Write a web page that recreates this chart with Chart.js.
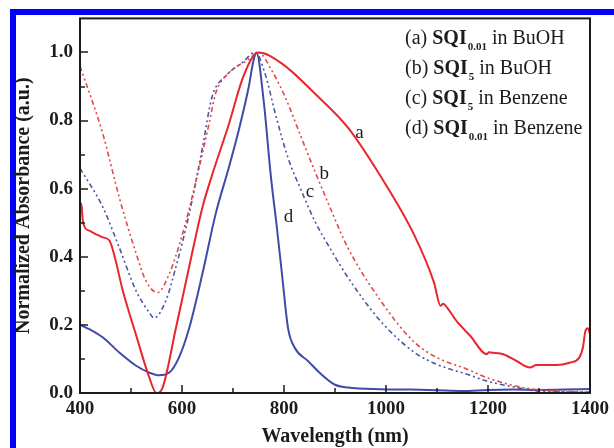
<!DOCTYPE html>
<html lang="en">
<head>
<meta charset="UTF-8">
<title>Normalized Absorbance</title>
<script src="https://cdn.jsdelivr.net/npm/chart.js"></script>
<style>
  html, body { margin: 0; padding: 0; background: #fff; }
</style>
</head>
<body>
<canvas id="absChart" width="614" height="448"></canvas>
<script>
// (a) SQI0.01 in BuOH - red solid
const aWl  = [400, 403, 406, 419, 445, 458, 468, 484, 510, 536, 550, 562, 588, 614, 640, 659, 692, 718, 740, 750, 796, 860, 925, 990, 1055, 1094, 1107, 1112, 1117, 1139, 1165, 1198, 1202, 1205, 1230, 1256, 1282, 1295, 1334, 1360, 1379, 1386, 1391, 1396, 1400];
const aAbs = [0.56, 0.55, 0.50, 0.476, 0.457, 0.447, 0.40, 0.30, 0.17, 0.045, 0.0, 0.016, 0.19, 0.37, 0.545, 0.64, 0.79, 0.92, 0.99, 1.0, 0.967, 0.88, 0.78, 0.635, 0.465, 0.325, 0.256, 0.262, 0.256, 0.21, 0.168, 0.114, 0.12, 0.119, 0.114, 0.094, 0.075, 0.082, 0.082, 0.089, 0.104, 0.133, 0.182, 0.19, 0.173];

// (b) SQI5 in BuOH - red dotted
const bWl  = [400, 445, 477, 510, 529, 552, 575, 601, 627, 653, 666, 692, 731, 750, 776, 802, 834, 860, 893, 925, 990, 1055, 1100, 1159, 1198, 1256, 1295, 1350, 1400];
const bAbs = [0.96, 0.76, 0.574, 0.41, 0.33, 0.295, 0.35, 0.467, 0.62, 0.79, 0.88, 0.94, 0.98, 1.0, 0.947, 0.87, 0.75, 0.653, 0.535, 0.427, 0.27, 0.15, 0.104, 0.07, 0.045, 0.02, 0.01, 0.005, 0.003];

// (c) SQI5 in Benzene - blue dotted
const cWl  = [400, 445, 477, 510, 536, 545, 568, 588, 614, 640, 659, 685, 718, 744, 763, 783, 808, 834, 860, 893, 925, 990, 1055, 1100, 1159, 1198, 1256, 1295, 1350, 1400];
const cAbs = [0.66, 0.545, 0.427, 0.30, 0.236, 0.22, 0.27, 0.37, 0.525, 0.72, 0.87, 0.93, 0.97, 1.0, 0.937, 0.82, 0.69, 0.594, 0.506, 0.418, 0.34, 0.21, 0.12, 0.084, 0.055, 0.035, 0.016, 0.006, 0.003, 0.002];

// (d) SQI0.01 in Benzene - blue solid
const dWl  = [400, 419, 445, 477, 510, 536, 555, 575, 594, 614, 640, 666, 692, 711, 731, 740, 746, 760, 774, 786, 796, 808, 821, 847, 873, 899, 925, 990, 1050, 1100, 1150, 1200, 1250, 1300, 1350, 1400];
const dAbs = [0.2, 0.187, 0.163, 0.119, 0.08, 0.06, 0.052, 0.06, 0.104, 0.19, 0.35, 0.526, 0.663, 0.77, 0.90, 0.975, 1.0, 0.86, 0.64, 0.486, 0.35, 0.19, 0.133, 0.094, 0.055, 0.025, 0.016, 0.011, 0.01, 0.008, 0.006, 0.009, 0.01, 0.009, 0.01, 0.012];

// legend text pieces
const legendTags = ['(a)', '(b)', '(c)', '(d)'];
const legendSubs = ['0.01', '5', '5', '0.01'];
const legendSolvents = ['BuOH', 'BuOH', 'Benzene', 'Benzene'];

// curve letters, placed in data coordinates
const curveTags = ['a', 'b', 'c', 'd'];
const curveTagWl = [948, 879, 851, 809];
const curveTagAbs = [0.762, 0.644, 0.589, 0.516];

const SERIF = '"Liberation Serif", "DejaVu Serif", serif';
const INK = '#1c1c1c';

function pts(wl, abs) {
  return wl.map(function (w, i) { return { x: w, y: abs[i] }; });
}

const decor = {
  id: 'decor',
  beforeDraw(chart) {
    const ctx = chart.ctx;
    ctx.save();
    ctx.fillStyle = '#fff';
    ctx.fillRect(0, 0, chart.width, chart.height);
    // blue frame strips (top and left)
    ctx.fillStyle = '#0000ff';
    ctx.fillRect(10, 9, chart.width - 10, 6);
    ctx.fillRect(10, 9, 6, chart.height - 9);
    ctx.restore();
  },
  afterDraw(chart) {
    const ctx = chart.ctx;
    const area = chart.chartArea;
    const xs = chart.scales.x, ys = chart.scales.y;
    ctx.save();
    ctx.strokeStyle = INK;
    ctx.lineWidth = 2;
    ctx.strokeRect(area.left, area.top, area.right - area.left, area.bottom - area.top);

    // inward ticks
    ctx.lineWidth = 1.5;
    ctx.beginPath();
    for (let w = 400; w <= 1400; w += 100) {
      const px = Math.round(xs.getPixelForValue(w));
      const len = (w % 200 === 0) ? 8 : 5;
      ctx.moveTo(px, area.bottom);
      ctx.lineTo(px, area.bottom - len);
    }
    for (let k = 0; k <= 10; k++) {
      const py = Math.round(ys.getPixelForValue(k / 10));
      const len = (k % 2 === 0) ? 8 : 5;
      ctx.moveTo(area.left, py);
      ctx.lineTo(area.left + len, py);
    }
    ctx.stroke();

    // curve letters
    ctx.fillStyle = INK;
    ctx.font = '19px ' + SERIF;
    ctx.textAlign = 'center';
    ctx.textBaseline = 'middle';
    curveTags.forEach(function (t, i) {
      ctx.fillText(t, xs.getPixelForValue(curveTagWl[i]), ys.getPixelForValue(curveTagAbs[i]));
    });

    // legend text
    ctx.textAlign = 'left';
    ctx.textBaseline = 'alphabetic';
    legendTags.forEach(function (tag, i) {
      let x = 405;
      const y = 44 + i * 30;
      ctx.font = '20px ' + SERIF;
      ctx.fillText(tag + ' ', x, y);
      x += ctx.measureText(tag + ' ').width;
      ctx.font = 'bold 20px ' + SERIF;
      ctx.fillText('SQI', x, y);
      x += ctx.measureText('SQI').width + 1;
      ctx.font = 'bold 11px ' + SERIF;
      ctx.fillText(legendSubs[i], x, y + 6);
      x += ctx.measureText(legendSubs[i]).width;
      ctx.font = '20px ' + SERIF;
      ctx.fillText(' in ' + legendSolvents[i], x, y);
    });
    ctx.restore();
  }
};

const ctx = document.getElementById('absChart').getContext('2d');
new Chart(ctx, {
  type: 'line',
  data: {
    datasets: [
      { label: 'a', data: pts(aWl, aAbs), borderColor: '#e8262b', borderWidth: 2 },
      { label: 'b', data: pts(bWl, bAbs), borderColor: '#e2474a', borderWidth: 1.6, borderDash: [5, 3, 2, 3, 2, 3] },
      { label: 'c', data: pts(cWl, cAbs), borderColor: '#4a56a6', borderWidth: 1.6, borderDash: [5, 3, 2, 3, 2, 3] },
      { label: 'd', data: pts(dWl, dAbs), borderColor: '#3f4ba8', borderWidth: 2 }
    ]
  },
  options: {
    responsive: false,
    animation: false,
    layout: { padding: { top: 17, right: 20, left: 0, bottom: 0 } },
    elements: {
      point: { radius: 0 },
      line: { cubicInterpolationMode: 'monotone', fill: false }
    },
    plugins: {
      legend: { display: false },
      tooltip: { enabled: false }
    },
    scales: {
      x: {
        type: 'linear',
        min: 400,
        max: 1400,
        grid: { display: false, drawTicks: false },
        border: { display: false },
        ticks: {
          stepSize: 200,
          padding: 5,
          color: INK,
          font: { family: SERIF, size: 19, weight: 'bold' },
          callback: function (v) { return String(v); }
        },
        title: {
          display: true,
          text: 'Wavelength (nm)',
          color: INK,
          padding: { top: 0, bottom: 1 },
          font: { family: SERIF, size: 20, weight: 'bold', lineHeight: 1 }
        },
        afterFit(scale) { scale.height = 55; }
      },
      y: {
        min: 0,
        max: 1.1,
        grid: { display: false, drawTicks: false },
        border: { display: false },
        ticks: {
          stepSize: 0.2,
          includeBounds: false,
          padding: 7,
          color: INK,
          font: { family: SERIF, size: 19, weight: 'bold' },
          callback: function (v) { return v.toFixed(1); }
        },
        title: {
          display: true,
          text: 'Normalized Absorbance (a.u.)',
          color: INK,
          padding: { top: 14, bottom: 0 },
          font: { family: SERIF, size: 20, weight: 'bold', lineHeight: 1 }
        },
        afterFit(scale) { scale.width = 80; }
      }
    }
  },
  plugins: [decor]
});
</script>
</body>
</html>
